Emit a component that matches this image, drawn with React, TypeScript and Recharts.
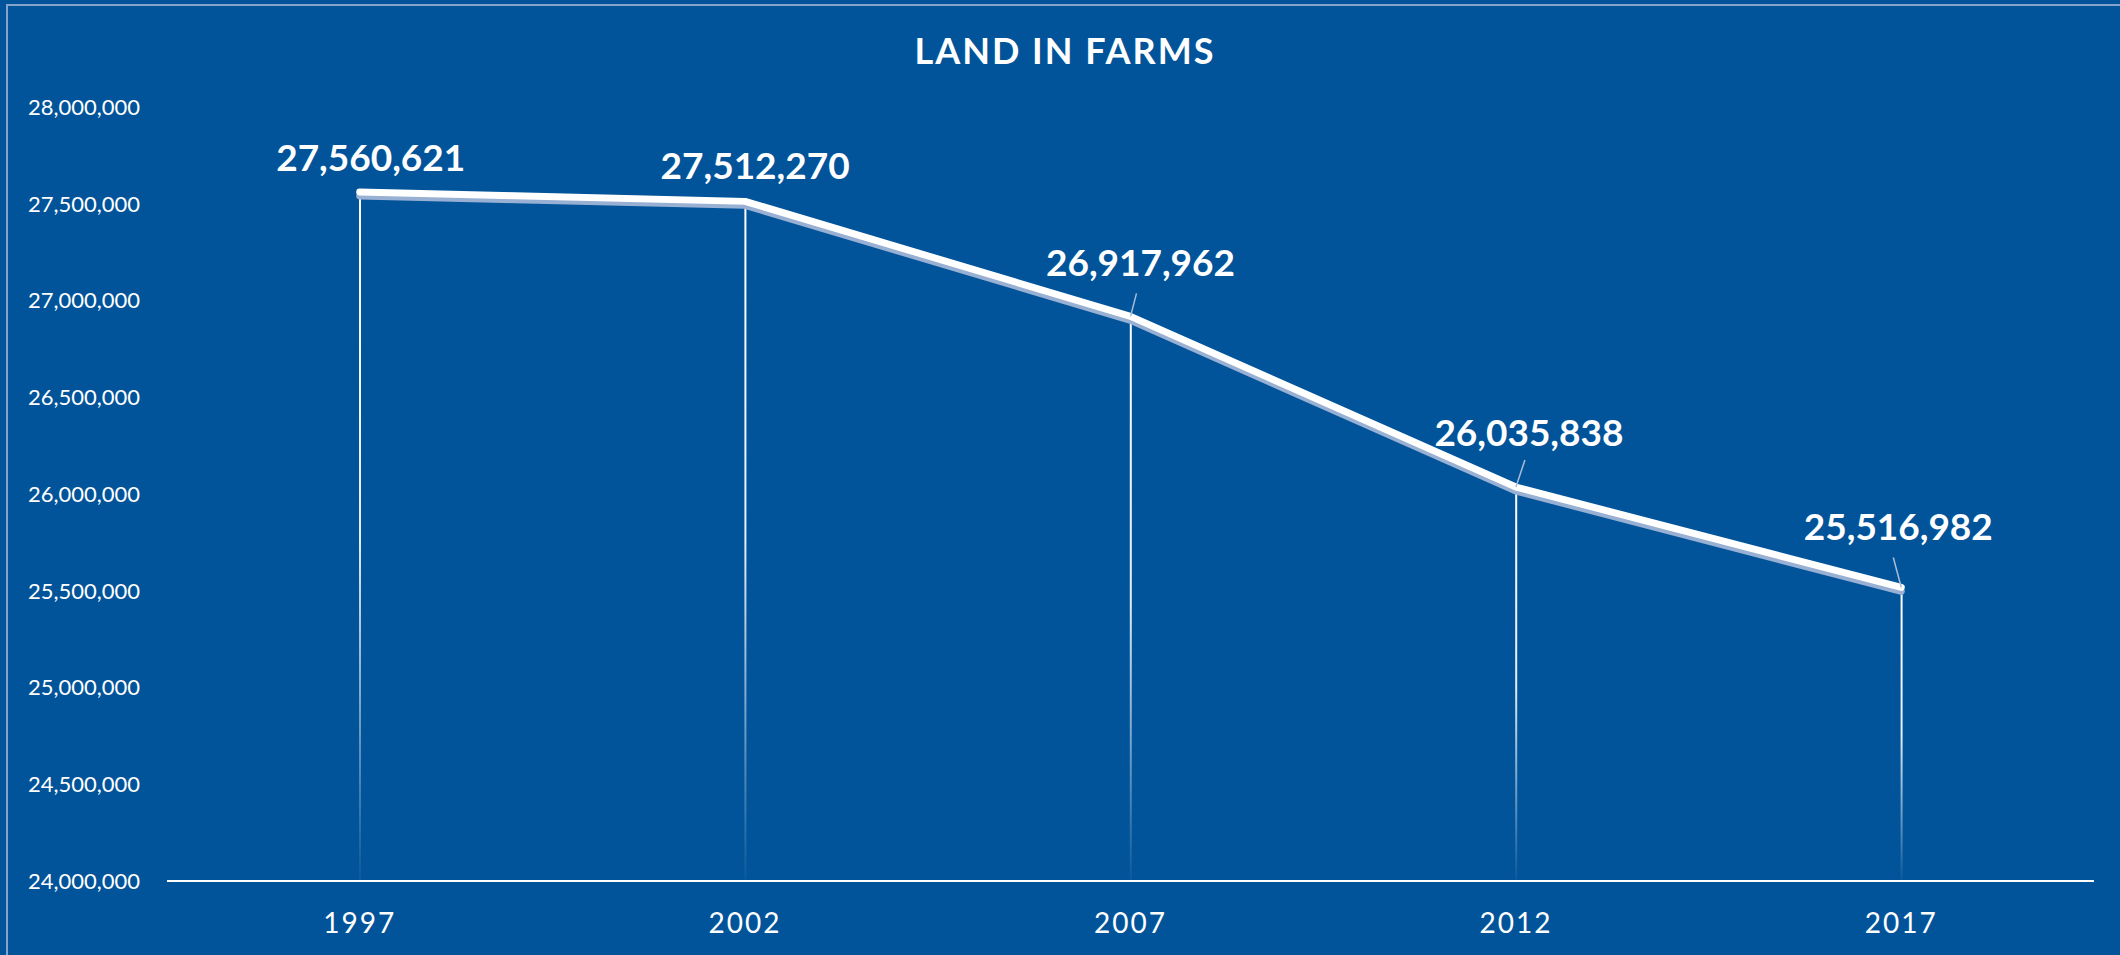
import React from 'react';
import {
  ComposedChart,
  Line,
  Bar,
  XAxis,
  YAxis,
  LabelList,
} from 'recharts';

// Census years and land in farms (acres)
const years = ['1997', '2002', '2007', '2012', '2017'];
const acres = [27560621, 27512270, 26917962, 26035838, 25516982];
const yTicks = [24000000, 24500000, 25000000, 25500000, 26000000, 26500000, 27000000, 27500000, 28000000];

const chartData = years.map((year, i) => ({ year, acres: acres[i] }));

// where each value label sits relative to its point, plus an optional leader line start
const labelPlacement = [
  { dx: 11, dy: -34, leader: null },
  { dx: 10, dy: -35, leader: null },
  { dx: 10, dy: -53, leader: { dx: 6, dy: -23 } },
  { dx: 13, dy: -54, leader: { dx: 9, dy: -27 } },
  { dx: -3, dy: -60, leader: { dx: -8, dy: -30 } },
];

const BG = '#01549a';
const FONT = 'Lato, "Noto Sans", sans-serif';

const fmt = (v: number) => v.toLocaleString('en-US');

const ValueLabel = (props: any) => {
  const { x, y, value, index } = props;
  const p = labelPlacement[index] || { dx: 0, dy: -34, leader: null };
  return (
    <g>
      {p.leader && (
        <line x1={x + p.leader.dx} y1={y + p.leader.dy} x2={x} y2={y} stroke="#a9bdd8" strokeWidth={1.5} />
      )}
      <text
        x={x + p.dx}
        y={y + p.dy + 13}
        textAnchor="middle"
        fill="#ffffff"
        fontFamily={FONT}
        fontWeight={700}
        fontSize={37}
      >
        {fmt(Number(value))}
      </text>
    </g>
  );
};

export default function App() {
  return (
    <div style={{ position: 'absolute', left: 0, top: 0, width: 2120, height: 955, background: BG, overflow: 'hidden' }}>
      <style>{`.farm-line .recharts-line-curve{filter:drop-shadow(0px 4px 0.5px #97b0d3);}`}</style>
      {/* light frame along the top and left */}
      <div style={{ position: 'absolute', left: 6, top: 4, width: 2200, height: 1000, borderTop: '2px solid #86a3cb', borderLeft: '2px solid #86a3cb' }} />
      <div
        style={{
          position: 'absolute',
          left: 1065,
          top: 32,
          transform: 'translateX(-50%)',
          color: '#ffffff',
          fontFamily: FONT,
          fontWeight: 700,
          fontSize: 36,
          lineHeight: '36px',
          letterSpacing: 2,
          whiteSpace: 'nowrap',
        }}
      >
        LAND IN FARMS
      </div>
      <div style={{ position: 'absolute', left: 0, top: 0 }}>
        <ComposedChart
          width={2120}
          height={955}
          data={chartData}
          margin={{ top: 107, right: 26, bottom: 0, left: 0 }}
        >
          <defs>
            <linearGradient id="dropFade" x1="0" y1="0" x2="0" y2="1">
              <stop offset="0%" stopColor="#ffffff" stopOpacity={1} />
              <stop offset="50%" stopColor="#ffffff" stopOpacity={0.9} />
              <stop offset="100%" stopColor="#ffffff" stopOpacity={0.03} />
            </linearGradient>
          </defs>
          <XAxis
            dataKey="year"
            height={74}
            axisLine={{ stroke: '#ffffff', strokeWidth: 2 }}
            tickLine={false}
            tickSize={0}
            tickMargin={32}
            tick={{ fill: '#ffffff', fontFamily: FONT, fontSize: 28, letterSpacing: 2 }}
          />
          <YAxis
            width={167}
            domain={[24000000, 28000000]}
            ticks={yTicks}
            tickFormatter={fmt}
            axisLine={false}
            tickLine={false}
            tickSize={0}
            tickMargin={27}
            tick={{ fill: '#ffffff', fontFamily: FONT, fontSize: 22 }}
            allowDataOverflow
          />
          {/* drop lines */}
          <Bar dataKey="acres" barSize={2} fill="url(#dropFade)" isAnimationActive={false} />
          <Line
            className="farm-line"
            dataKey="acres"
            type="linear"
            stroke="#ffffff"
            strokeWidth={7}
            strokeLinecap="round"
            strokeLinejoin="round"
            dot={false}
            activeDot={false}
            isAnimationActive={false}
          >
            <LabelList dataKey="acres" content={<ValueLabel />} />
          </Line>
        </ComposedChart>
      </div>
    </div>
  );
}
